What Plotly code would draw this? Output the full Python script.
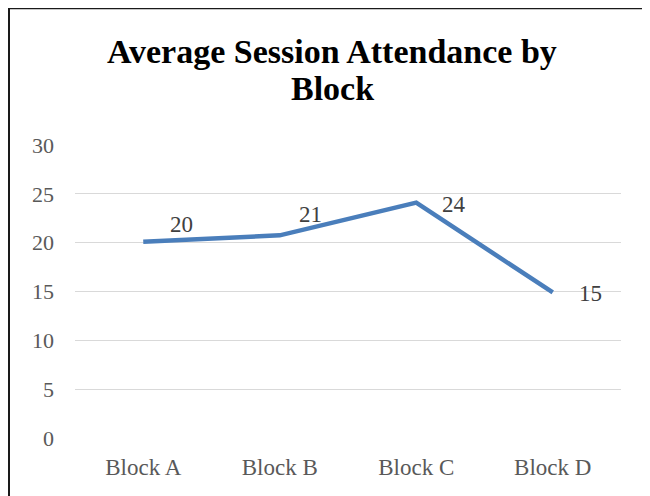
import plotly.graph_objects as go

# data
blocks = ["Block A", "Block B", "Block C", "Block D"]
attendance = [20.1, 20.75, 24.1, 14.9]
y_ticks = [0, 5, 10, 15, 20, 25, 30]
title_lines = ["Average Session Attendance by", "Block"]

# label offsets (px) for each data label, tuned to the picture
label_dx = [38, 31, 38, 38]
label_dy = [17, 21, -2, -1]

W, H = 650, 496
PAGE = 8  # the html body margin pushes the figure 8px right and down
# plot area in screen pixels of the reference, converted to figure pixels
L = 75 - PAGE
T = 145 - PAGE
R = W - (621 - PAGE)
B = H - (438 - PAGE)
SERIF = "Liberation Serif"


def px_x(p):
    # screen x pixel -> paper coordinate
    return (p - PAGE - L) / (W - L - R)


def px_y(p):
    # screen y pixel -> paper coordinate
    return (H - B - (p - PAGE)) / (H - T - B)


fig = go.Figure()
fig.add_trace(go.Scatter(
    x=blocks, y=attendance, mode="lines",
    line=dict(color="#4a7ebb", width=4.5),
    hoverinfo="x+y", showlegend=False
))

for i, (b, v) in enumerate(zip(blocks, attendance)):
    fig.add_annotation(
        x=b, y=v, text=f"{v:.0f}", showarrow=False,
        xshift=label_dx[i], yshift=label_dy[i],
        font=dict(family=SERIF, size=23, color="#404040")
    )

# title, two lines placed separately to get the tight line spacing
for line, yc in zip(title_lines, [52, 88]):
    fig.add_annotation(
        text=f"<b>{line}</b>", showarrow=False,
        xref="paper", yref="paper", x=px_x(332), y=px_y(yc),
        xanchor="center", yanchor="middle",
        font=dict(family=SERIF, size=34, color="black")
    )

# outer border of the chart (only top and left are visible in the crop)
fig.add_shape(type="line", xref="paper", yref="paper",
              x0=px_x(9), x1=px_x(9), y0=px_y(8.5), y1=px_y(H + 20),
              line=dict(color="#1a1a1a", width=2))
fig.add_shape(type="line", xref="paper", yref="paper",
              x0=px_x(8), x1=px_x(W + 20), y0=px_y(8.6), y1=px_y(8.6),
              line=dict(color="#1a1a1a", width=1.5))

fig.update_layout(
    width=W, height=H,
    margin=dict(l=L, r=R, t=T, b=B),
    paper_bgcolor="white", plot_bgcolor="white",
    xaxis=dict(
        type="category", range=[-0.5, 3.5],
        showgrid=False, showline=False, zeroline=False,
        tickfont=dict(family=SERIF, size=23, color="#595959"),
        ticklabelstandoff=13
    ),
    yaxis=dict(
        range=[0, 30], tickvals=y_ticks,
        showgrid=True, gridcolor="#d9d9d9", gridwidth=1.3,
        zeroline=False, showline=False,
        tickfont=dict(family=SERIF, size=22, color="#595959"),
        ticklabelstandoff=20
    ),
)

fig.write_html("out.html")
